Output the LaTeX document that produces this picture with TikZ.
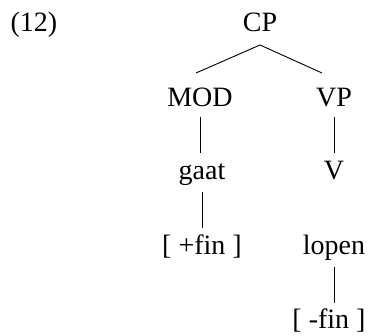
\documentclass[tikz,border=0pt]{standalone}
\usepackage{fontspec}
\setmainfont{Liberation Serif}
\usetikzlibrary{calc}
\begin{document}
\begin{tikzpicture}[x=1pt,y=-1pt,
  lbl/.style={anchor=base,inner sep=0pt,font=\fontsize{28}{30}\selectfont},
  branch/.style={line width=0.9pt}]
\useasboundingbox (0,0) rectangle (368,336);
% example number
\node[lbl] (num) at (34,32) {(12)};
% tree nodes (positioned by baseline)
\node[lbl] (cp)   at (260,32)  {CP};
\node[lbl] (mod)  at (200,107) {MOD};
\node[lbl] (vp)   at (334,107) {VP};
\node[lbl] (gaat) at (202,180) {gaat};
\node[lbl] (v)    at (334,180) {V};
\node[lbl] (pfin) at (202,255) {[ +fin ]};
\node[lbl] (lop)  at (334,255) {lopen};
\node[lbl] (mfin) at (329,329) {[ -fin ]};
% branches
\draw[branch] ($(cp.base)+(0,13)$) -- ($(mod.base)+(-4,-34)$);
\draw[branch] ($(cp.base)+(0,13)$) -- ($(vp.base)+(-12,-34)$);
\draw[branch] ($(mod.base)+(0,10)$) -- ($(gaat.base)+(-2,-27)$);
\draw[branch] ($(vp.base)+(0,10)$) -- ($(v.base)+(0,-27)$);
\draw[branch] ($(gaat.base)+(0,12)$) -- ($(pfin.base)+(0,-27)$);
\draw[branch] ($(lop.base)+(0,12)$) -- ($(mfin.base)+(5,-26)$);
\end{tikzpicture}
\end{document}
